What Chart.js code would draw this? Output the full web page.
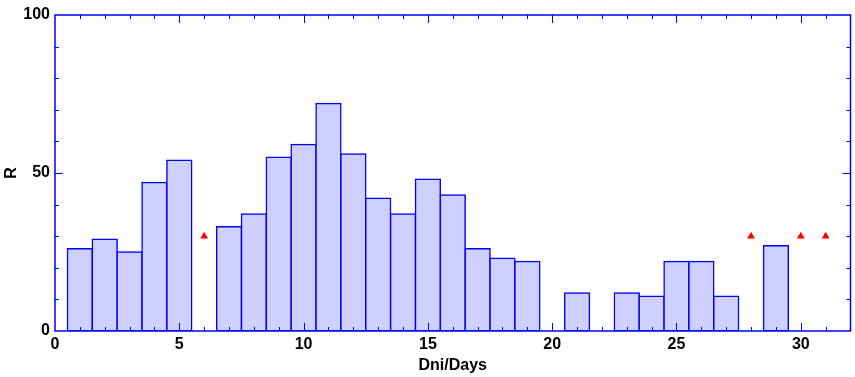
<!DOCTYPE html>
<html>
<head>
<meta charset="utf-8">
<script src="https://cdn.jsdelivr.net/npm/chart.js@4/dist/chart.umd.min.js"></script>
<style>
  html, body { margin: 0; padding: 0; background: #fff; }
  #wrap { width: 855px; height: 377px; }
</style>
</head>
<body>
<div id="wrap"><canvas id="rChart" width="855" height="377"></canvas></div>
<script>
// ---- data ----
const days = [1,2,3,4,5,6,7,8,9,10,11,12,13,14,15,16,17,18,19,20,21,22,23,24,25,26,27,28,29,30,31];
const rValues = [26,29,25,47,54,null,33,37,55,59,72,56,42,37,48,43,26,23,22,null,12,null,12,11,22,22,11,null,27,null,null];
const markerDays = [6, 28, 30, 31];
const markerValues = [30, 30, 30, 30];
const xTickLabels = [0, 5, 10, 15, 20, 25, 30];
const yTickLabels = [0, 50, 100];

const BLUE = '#0000ff';

// frame with inward ticks on all four sides
const framePlugin = {
    id: 'frame',
    afterDatasetsDraw(chart) {
        const ctx = chart.ctx;
        const a = chart.chartArea;
        const xs = chart.scales.x, ys = chart.scales.y;
        ctx.save();
        ctx.strokeStyle = BLUE;
        ctx.lineWidth = 1.5;
        ctx.strokeRect(a.left, a.top, a.right - a.left, a.bottom - a.top);
        ctx.lineWidth = 1;
        ctx.beginPath();
        for (let v = 1; v < 32; v++) {
            const px = Math.round(xs.getPixelForValue(v)) + 0.5;
            const len = v % 5 === 0 ? 8 : 4;
            ctx.moveTo(px, a.bottom); ctx.lineTo(px, a.bottom - len);
            ctx.moveTo(px, a.top); ctx.lineTo(px, a.top + len);
        }
        for (let v = 10; v < 100; v += 10) {
            const py = Math.round(ys.getPixelForValue(v)) + 0.5;
            const len = v % 50 === 0 ? 8 : 4;
            ctx.moveTo(a.left, py); ctx.lineTo(a.left + len, py);
            ctx.moveTo(a.right, py); ctx.lineTo(a.right - len, py);
        }
        ctx.stroke();
        ctx.restore();
    }
};

Chart.defaults.font.family = '"Liberation Sans", Arial, sans-serif';
Chart.defaults.font.weight = 'bold';
Chart.defaults.font.size = 16;
Chart.defaults.color = '#000';

const ctx = document.getElementById('rChart').getContext('2d');

new Chart(ctx, {
    type: 'bar',
    data: {
        datasets: [
            {
                type: 'scatter',
                data: markerDays.map((d, i) => ({ x: d, y: markerValues[i] })),
                pointStyle: 'triangle',
                radius: 4.5,
                backgroundColor: '#ff0000',
                borderColor: '#ff0000',
                borderWidth: 0
            },
            {
                type: 'bar',
                data: days.map((d, i) => ({ x: d, y: rValues[i] })),
                backgroundColor: 'rgb(206, 208, 255)',
                borderColor: BLUE,
                borderWidth: 1.5,
                inflateAmount: 0.75,   // centre the outline on the bar edges so neighbours share one line
                barPercentage: 1,
                categoryPercentage: 1,
                borderSkipped: false
            }
        ]
    },
    options: {
        responsive: false,
        animation: false,
        layout: { padding: { top: 15, right: 2, left: 0, bottom: 0 } },
        plugins: {
            legend: { display: false },
            tooltip: { enabled: false }
        },
        scales: {
            x: {
                type: 'linear',
                offset: false,
                min: 0,
                max: 32,
                grid: { display: false, drawTicks: false, offset: false },
                border: { display: false },
                ticks: { padding: 4 },
                afterBuildTicks: s => { s.ticks = xTickLabels.map(v => ({ value: v })); },
                afterFit: s => { s.height = 46; },
                title: { display: true, text: 'Dni/Days', padding: { top: 0, bottom: 2 } }
            },
            y: {
                min: 0,
                max: 100,
                grid: { display: false, drawTicks: false },
                border: { display: false },
                ticks: { padding: 5 },
                afterBuildTicks: s => { s.ticks = yTickLabels.map(v => ({ value: v })); },
                afterFit: s => { s.width = 55; },
                title: { display: true, text: 'R', padding: { top: 2, bottom: 0 } }
            }
        }
    },
    plugins: [framePlugin]
});
</script>
</body>
</html>
